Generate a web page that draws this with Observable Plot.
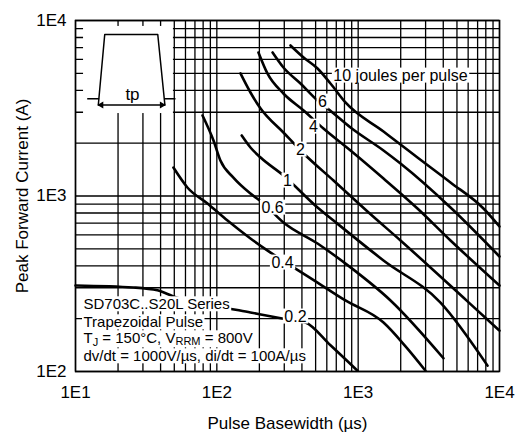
<!DOCTYPE html>
<html>
<head>
<meta charset="utf-8">
<script src="https://cdn.jsdelivr.net/npm/d3@7"></script>
<script src="https://cdn.jsdelivr.net/npm/@observablehq/plot@0.6"></script>
<style>
  html, body { margin: 0; padding: 0; background: white; }
</style>
</head>
<body>
<script>
// ---- axis ticks / grid ----
const xTicks = [10, 100, 1000, 10000];
const xTickLabels = ["1E1", "1E2", "1E3", "1E4"];
const yTicks = [100, 1000, 10000];
const yTickLabels = ["1E2", "1E3", "1E4"];
const xGrid = [10, 20, 30, 40, 50, 60, 70, 80, 90,
  100, 200, 300, 400, 500, 600, 700, 800, 900,
  1000, 2000, 3000, 4000, 5000, 6000, 7000, 8000, 9000, 10000];
const yGrid = [100, 200, 300, 400, 500, 600, 700, 800, 900,
  1000, 2000, 3000, 4000, 5000, 6000, 7000, 8000, 9000, 10000];

// ---- curves: pulse basewidth (µs) vs peak forward current (A), per energy ----
const t10 = [332, 411, 516, 637, 813, 1511, 1993, 2628, 4501, 7704, 10000];
const i10 = [7204, 6151, 5328, 4375, 3412, 2331, 1966, 1657, 1194, 849, 670];
const t6 = [248, 296, 391, 516, 658, 883, 1511, 1993, 4501, 10000];
const i6 = [6573, 5398, 4375, 3500, 2991, 2456, 1817, 1531, 860, 452];
const t4 = [197, 228, 296, 411, 568, 883, 1511, 2628, 4501, 10000];
const i4 = [6573, 4993, 3838, 3069, 2424, 1817, 1258, 849, 558, 309];
const t2 = [147, 173, 204, 296, 411, 669, 1164, 1993, 5938, 10000];
const i2 = [4993, 3888, 3151, 2300, 1747, 1225, 816, 558, 251, 171];
const t1 = [150, 173, 204, 296, 516, 669, 1511, 3824, 8228];
const i1 = [2212, 1890, 1656, 1309, 860, 725, 429, 247, 108];
const t06 = [79.2, 94.7, 106, 131, 173, 214, 296, 516, 883, 1694, 4014];
const i06 = [2875, 2072, 1593, 1274, 1033, 906, 706, 536, 392, 254, 119];
const t04 = [49.3, 61.9, 85.9, 119, 173, 240, 360, 516, 813, 1511, 2163, 2995];
const i04 = [1452, 1118, 906, 725, 573, 476, 386, 321, 254, 190, 139, 101];
const t02 = [10, 25.7, 38, 49.3, 94.7, 173, 296, 424, 637, 989];
const i02 = [309, 301, 290, 268, 238, 217, 200, 190, 141, 101];

// ---- curve labels ----
const labelText = ["10 joules per pulse", "6", "4", "2", "1", "0.6", "0.4", "0.2"];
const labelT = [1993, 559, 483, 391, 316, 248, 291.5, 360];
const labelI = [4861, 3455, 2489, 1841, 1226, 860, 418, 206];

// ---- annotation ----
const annotLines = ["SD703C..S20L Series", "Trapezoidal Pulse", "TJ = 150°C, VRRM = 800V", "dv/dt = 1000V/µs, di/dt = 100A/µs"];
const xTitle = "Pulse Basewidth (µs)";
const yTitle = "Peak Forward Current (A)";

// ---- inset pulse sketch (drawn in data units) ----
const insetBox = [{x1: 11.4, x2: 49.3, y1: 2950, y2: 9250}];
const pulseT = [14.5, 16.1, 38.2, 42.9];
const pulseI = [3300, 8318, 8318, 3300];
const stubs = [{x1: 12.1, x2: 14.7, y: 3581}, {x1: 42.6, x2: 51.0, y: 3581}, {x1: 14.5, x2: 42.9, y: 3300}];
const tpLabel = [{x: 25.3, y: 3785, t: "tp"}];

const series = [
  {e: "10", t: t10, i: i10}, {e: "6", t: t6, i: i6}, {e: "4", t: t4, i: i4},
  {e: "2", t: t2, i: i2}, {e: "1", t: t1, i: i1}, {e: "0.6", t: t06, i: i06},
  {e: "0.4", t: t04, i: i04}, {e: "0.2", t: t02, i: i02}
];
const rows = series.flatMap(s => s.t.map((t, k) => ({e: s.e, t, i: s.i[k]})));
const labels = labelText.map((text, k) => ({text, t: labelT[k], i: labelI[k]}));
const pulse = pulseT.map((t, k) => ({t, i: pulseI[k]}));

const FONT = "'Liberation Sans', Arial, sans-serif";
const annot = (k, dy) => Plot.text([annotLines[k]], {text: d => d, frameAnchor: "bottom-left", dx: 8, dy, textAnchor: "start", lineAnchor: "middle", fontSize: 15, fill: "#010101"});

const plot = Plot.plot({
  width: 515,
  height: 434,
  marginLeft: 75,
  marginRight: 16,
  marginTop: 20,
  marginBottom: 63,
  style: {fontFamily: FONT, fontSize: "17px", background: "white", color: "black"},
  x: {type: "log", domain: [10, 10000], ticks: xTicks, tickFormat: d => xTickLabels[xTicks.indexOf(d)], tickSize: 0, tickPadding: 14, label: null},
  y: {type: "log", domain: [100, 10000], ticks: yTicks, tickFormat: d => yTickLabels[yTicks.indexOf(d)], tickSize: 0, tickPadding: 9, label: null},
  marks: [
    Plot.ruleX(xGrid, {stroke: "black", strokeWidth: 1.3}),
    Plot.ruleY(yGrid, {stroke: "black", strokeWidth: 1.3}),
    Plot.frame({stroke: "black", strokeWidth: 1.5}),
    // inset
    Plot.rect(insetBox, {x1: "x1", x2: "x2", y1: "y1", y2: "y2", fill: "white"}),
    Plot.line(pulse, {x: "t", y: "i", stroke: "black", strokeWidth: 1.5}),
    Plot.link(stubs, {x1: "x1", x2: "x2", y1: "y", y2: "y", stroke: "black", strokeWidth: 1.5}),
    Plot.dot([stubs[2]], {x: "x1", y: "y", symbol: "triangle", rotate: -90, r: 2.6, fill: "black", stroke: "none", dx: 3}),
    Plot.dot([stubs[2]], {x: "x2", y: "y", symbol: "triangle", rotate: 90, r: 2.6, fill: "black", stroke: "none", dx: -3}),
    Plot.text(tpLabel, {x: "x", y: "y", text: "t", fontSize: 17, fill: "black"}),
    // curves
    Plot.line(rows, {x: "t", y: "i", z: "e", stroke: "black", strokeWidth: 2.6, curve: "monotone-x"}),
    // curve labels (boxed)
    Plot.text(labels, {x: "t", y: "i", text: "text", fontSize: 16, fill: "#010101"}),
    // annotation lines (boxed)
    annot(0, -67), annot(1, -49), annot(2, -33), annot(3, -15),
    // axis titles
    Plot.text([xTitle], {text: d => d, frameAnchor: "bottom", dy: 52, lineAnchor: "middle", textAnchor: "middle", fontSize: 17, fill: "black"}),
    Plot.text([yTitle], {text: d => d, frameAnchor: "left", dx: -53, rotate: -90, lineAnchor: "middle", textAnchor: "middle", fontSize: 17, fill: "black"})
  ]
});

document.body.append(plot);

// subscripts in the TJ / VRRM line
const svgNS = "http://www.w3.org/2000/svg";
plot.querySelectorAll("text").forEach(el => {
  if (el.textContent === annotLines[2]) {
    el.textContent = "";
    const parts = [["T", 0, null], ["J", 3, 11], [" = 150°C, V", -3, null], ["RRM", 2, 11], [" = 800V", -2, null]];
    parts.forEach(([s, dy, fs]) => {
      const ts = document.createElementNS(svgNS, "tspan");
      ts.textContent = s;
      if (dy) ts.setAttribute("dy", dy);
      if (fs) ts.setAttribute("font-size", fs);
      el.appendChild(ts);
    });
  }
});

// white boxes behind labels
plot.querySelectorAll('g[fill="#010101"] text').forEach(el => {
  const b = el.getBBox();
  const r = document.createElementNS(svgNS, "rect");
  r.setAttribute("x", b.x - 1.5);
  r.setAttribute("y", b.y + 1);
  r.setAttribute("width", b.width + 3);
  r.setAttribute("height", b.height - 2);
  r.setAttribute("fill", "white");
  r.setAttribute("stroke", "none");
  const tr = el.getAttribute("transform");
  if (tr) r.setAttribute("transform", tr);
  el.parentNode.insertBefore(r, el);
});
</script>
</body>
</html>
